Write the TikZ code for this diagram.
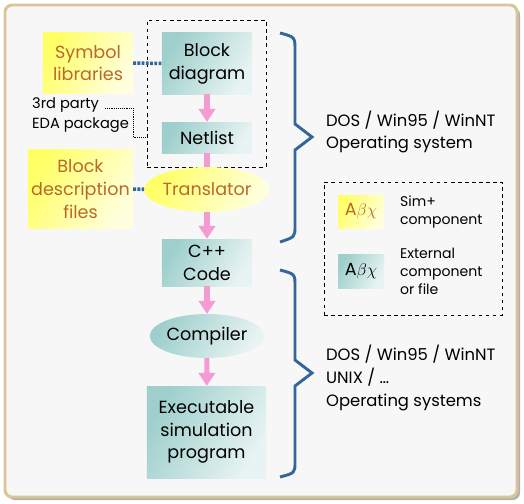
\documentclass[tikz,border=0pt]{standalone}
\usepackage{fontspec}
\setmainfont{Poppins}
\usetikzlibrary{arrows.meta,shapes.geometric}
\definecolor{framefill}{HTML}{F7F7F7}
\definecolor{frametan}{HTML}{D9C596}
\definecolor{simyellow}{HTML}{FFFF66}
\definecolor{simyellowL}{HTML}{FFFFDD}
\definecolor{exteal}{HTML}{9ECFCC}
\definecolor{extealL}{HTML}{E8F4F3}
\definecolor{labelorange}{HTML}{B8692C}
\definecolor{flowpink}{HTML}{F59BD2}
\definecolor{linkblue}{HTML}{336699}
\begin{document}
\begin{tikzpicture}[x=0.03cm,y=-0.03cm,
  mainfont/.style={font=\fontsize{15}{19.5}\selectfont},
  simbox/.style={mainfont,inner sep=0pt,align=center,text=labelorange,
    left color=simyellowL,middle color=simyellow,right color=simyellow,shading angle=240},
  extbox/.style={mainfont,inner sep=0pt,align=center,text=black,
    left color=extealL,middle color=exteal,right color=exteal,shading angle=240},
  oval/.style={ellipse,minimum width=2.7cm,minimum height=1.35cm},
  flow/.style={flowpink,line width=4.3pt,-{Triangle[width=14pt,length=11pt]}},
  link/.style={linkblue,line width=3pt,dash pattern=on 2.4pt off 1.2pt},
  osbrace/.style={linkblue,line width=2.5pt,line join=miter},
  ostext/.style={anchor=west,align=left,font=\fontsize{14}{19.3}\selectfont},
  legtext/.style={anchor=west,align=left,font=\fontsize{12}{15.3}\selectfont}]
\useasboundingbox (0,0) rectangle (524,504);
% frame
\path[fill=black!30,rounded corners=6pt] (7.5,7.5) rectangle (520,500);
\draw[frametan,line width=2.5pt,fill=framefill,rounded corners=6pt] (5,5) rectangle (517,497);
% flow
\node[draw,dashed,line width=.6pt,minimum width=3.57cm,minimum height=4.41cm] (pkg) at (206.5,93.5) {};
\node[simbox,minimum width=2.7cm,minimum height=1.8cm] (symlib) at (88,63) {Symbol\\libraries};
\node[extbox,minimum width=2.7cm,minimum height=1.83cm] (blockdiag) at (207,63.5) {Block\\diagram};
\node[extbox,minimum width=2.7cm,minimum height=.93cm] (netlist) at (207,137.5) {Netlist};
\node[anchor=west,align=left,font=\fontsize{12.5}{17}\selectfont] (eda) at (28,115.5) {3rd party\\EDA package};
\coordinate (edaend) at (105,108);
\node[simbox,minimum width=3.15cm,minimum height=2.34cm] (blockdesc) at (80.5,189) {Block\\description\\files};
\draw[flowpink,line width=4.3pt] (netlist.south) -- (207,170);
\node[simbox,oval] (translator) at (207,189.5) {Translator};
\node[extbox,minimum width=2.7cm,minimum height=1.41cm] (cppcode) at (207,262.5) {C++\\Code};
\node[extbox,oval,minimum height=1.32cm] (compiler) at (207,336) {Compiler};
\node[extbox,minimum width=3.57cm,minimum height=2.76cm] (exec) at (206.5,432) {Executable\\simulation\\program};
\draw[flow] (blockdiag) -- (netlist);
\draw[flow] (translator) -- (cppcode);
\draw[flow] (cppcode) -- (compiler);
\draw[flow] (compiler) -- (exec);
\draw[link] (symlib) -- (blockdiag);
\draw[link] (blockdesc) -- (translator);
\draw[densely dotted,line width=.6pt] (edaend) -- ++(28,0) |- (pkg.west |- netlist);
% operating systems
\draw[osbrace] (280,33) .. controls (295,37) .. (295,50) -- (295,124) -- (312,137) -- (295,150) -- (295,226) .. controls (295,237) .. (280,242);
\draw[osbrace] (280,270) .. controls (295,274) .. (295,286) -- (295,360) -- (312,373) -- (295,386) -- (295,462) .. controls (295,473) .. (280,477);
\node[ostext] (os1) at (322,132) {DOS / Win95 / WinNT\\Operating system};
\node[ostext] (os2) at (322,378) {DOS / Win95 / WinNT\\UNIX / …\\Operating systems};
% legend
\node[draw,dashed,line width=.6pt,minimum width=5.34cm,minimum height=3.99cm] (legend) at (413,248.5) {};
\node[simbox,minimum width=1.38cm,minimum height=.99cm,font=\fontsize{15}{16}\selectfont] (legsim) at (361,211.5) {$\mathrm{A}\beta\chi$};
\node[extbox,minimum width=1.38cm,minimum height=1.02cm,font=\fontsize{15}{16}\selectfont] (legext) at (361,271) {$\mathrm{A}\beta\chi$};
\node[legtext] (legsimtext) at (396,212) {Sim+\\component};
\node[legtext] (legexttext) at (396,271) {External\\component\\or file};
\end{tikzpicture}
\end{document}
